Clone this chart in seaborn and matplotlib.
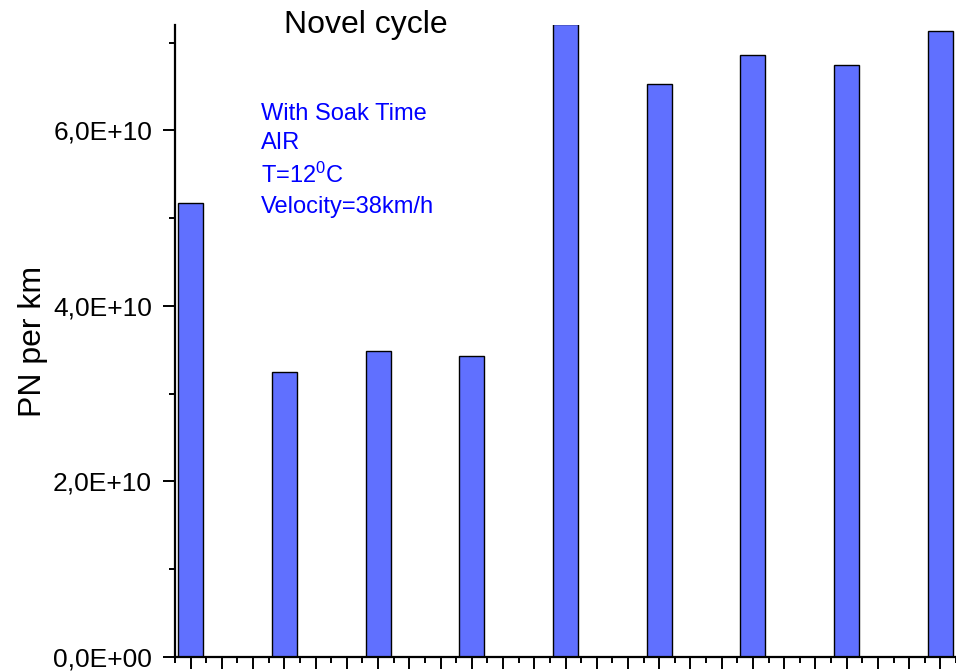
import matplotlib
matplotlib.use("Agg")
import matplotlib.pyplot as plt
from matplotlib.ticker import MultipleLocator, NullFormatter, FuncFormatter
import seaborn as sns
import pandas as pd

# PN emissions per km for each repetition of the novel cycle
runs = ["1", "2", "3", "4", "5", "6", "7", "8", "9"]
pn_per_km = [5.17e10, 3.25e10, 3.49e10, 3.43e10, 7.21e10, 6.53e10, 6.86e10, 6.75e10, 7.13e10]

title = "Novel cycle"
ylabel = "PN per km"
notes = ["With Soak Time", "AIR", r"T=12$^0$C", "Velocity=38km/h"]

sns.set_theme(style="white")
plt.rcParams["font.family"] = ["Liberation Sans", "DejaVu Sans"]
plt.rcParams["mathtext.fontset"] = "custom"
plt.rcParams["mathtext.rm"] = "Liberation Sans"
plt.rcParams["mathtext.it"] = "Liberation Sans"
plt.rcParams["mathtext.default"] = "regular"

W, H = 956, 672
fig = plt.figure(figsize=(W / 100, H / 100), dpi=100)
ax = fig.add_axes([175 / W, 1 - 657 / H, (956 - 175) / W, (657 - 25) / H])

df = pd.DataFrame({"run": runs, "pn": pn_per_km})
sns.barplot(data=df, x="run", y="pn", ax=ax, color="#6070FF", saturation=1,
            width=0.266, edgecolor="black", linewidth=1.0)

ax.set_xlim(-1 / 6, len(runs) - 1 + 1 / 6)
ax.set_ylim(0, 7.2e10)

# x axis: unlabeled ticks, major every third of a bar step, minor in between
ax.xaxis.set_major_locator(MultipleLocator(1 / 3))
ax.xaxis.set_minor_locator(MultipleLocator(1 / 6))
ax.xaxis.set_major_formatter(NullFormatter())
ax.set_xlabel("")

ax.yaxis.set_major_locator(MultipleLocator(2e10))
ax.yaxis.set_minor_locator(MultipleLocator(1e10))


def sci_comma(v, _pos):
    if v == 0:
        return "0,0E+00"
    exp = int(f"{v:.1E}".split("E")[1])
    mant = v / 10 ** exp
    return f"{mant:.1f}".replace(".", ",") + f"E+{exp:02d}"


ax.yaxis.set_major_formatter(FuncFormatter(sci_comma))
ax.set_ylabel("")

for side in ("top", "right"):
    ax.spines[side].set_visible(False)
for side in ("left", "bottom"):
    ax.spines[side].set_linewidth(1.6)
    ax.spines[side].set_color("black")

ax.tick_params(axis="both", which="major", direction="out", length=8.5, width=1.4,
               color="black", left=True, bottom=True)
ax.tick_params(axis="both", which="minor", direction="out", length=4.3, width=1.4,
               color="black", left=True, bottom=True)
ax.tick_params(axis="y", which="major", labelsize=19, pad=8, labelcolor="black")

fig.text(365.5 / W, 1 - 33 / H, title, fontsize=23, ha="center", va="baseline", color="black")
fig.text(33 / W, 1 - 341 / H, ylabel, fontsize=23, rotation=90, ha="center", va="center", color="black")

baselines = [120, 149, 183, 213]
for line, yb in zip(notes, baselines):
    fig.text(261 / W, 1 - yb / H, line, fontsize=17, color="#0000FF", ha="left", va="baseline")

fig.savefig("out.png", dpi=100)
